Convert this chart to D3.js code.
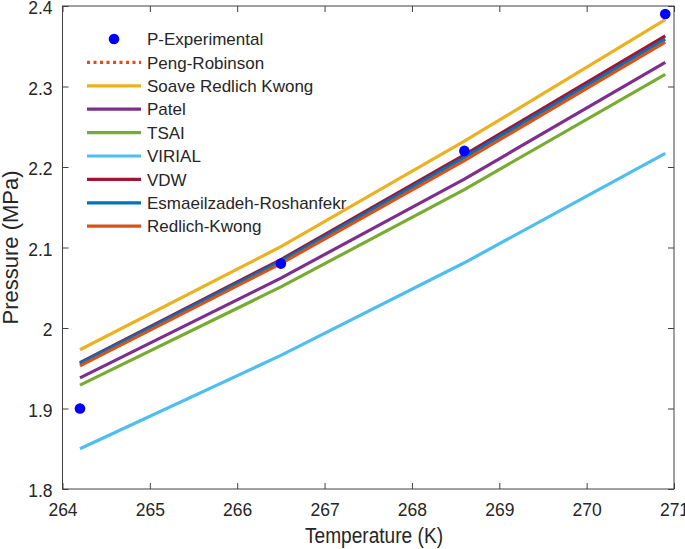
<!DOCTYPE html>
<html><head><meta charset="utf-8">
<script src="https://cdn.jsdelivr.net/npm/d3@7"></script>
<style>body{margin:0;background:#fff}svg{display:block;font-family:"Liberation Sans",Arial,sans-serif}</style>
</head><body><div id="chart"></div>
<script>
const temps = [264.2, 266.5, 268.6, 270.9];
const expP = [1.90, 2.08, 2.22, 2.39];
const pengRobinson = [1.955, 2.082, 2.210, 2.357];
const soave = [1.973, 2.101, 2.232, 2.383];
const patel = [1.938, 2.062, 2.185, 2.330];
const tsai = [1.929, 2.051, 2.172, 2.315];
const virial = [1.850, 1.966, 2.081, 2.217];
const vdw = [1.957, 2.085, 2.215, 2.363];
const esmaeil = [1.956, 2.083, 2.212, 2.359];
const redlichKwong = [1.953, 2.080, 2.208, 2.355];
const xTicks = [264, 265, 266, 267, 268, 269, 270, 271];
const yTicks = [1.8, 1.9, 2.0, 2.1, 2.2, 2.3, 2.4];

const series = [
  {name: "Peng-Robinson", values: pengRobinson, color: "#D95319", dash: "3,3.5"},
  {name: "Soave Redlich Kwong", values: soave, color: "#EDB120"},
  {name: "Patel", values: patel, color: "#7E2F8E"},
  {name: "TSAI", values: tsai, color: "#77AC30"},
  {name: "VIRIAL", values: virial, color: "#4DBEEE"},
  {name: "VDW", values: vdw, color: "#A2142F"},
  {name: "Esmaeilzadeh-Roshanfekr", values: esmaeil, color: "#0072BD"},
  {name: "Redlich-Kwong", values: redlichKwong, color: "#D95319"}
];

const W = 685, H = 549;
const m = {left: 62.5, right: 11, top: 6, bottom: 60};
const svg = d3.select("#chart").append("svg").attr("width", W).attr("height", H);
const x = d3.scaleLinear().domain([264, 271]).range([m.left, W - m.right]);
const y = d3.scaleLinear().domain([1.8, 2.4]).range([H - m.bottom, m.top]);
const axisColor = "#404040", textColor = "#262626";

// lines
const line = d3.line().x((d, i) => x(temps[i])).y(d => y(d));
series.forEach(s => {
  svg.append("path").datum(s.values).attr("d", line)
    .attr("fill", "none").attr("stroke", s.color).attr("stroke-width", 3.2)
    .attr("stroke-dasharray", s.dash || null);
});
// experimental points
svg.selectAll("circle.exp").data(expP).enter().append("circle")
  .attr("class", "exp").attr("cx", (d, i) => x(temps[i])).attr("cy", d => y(d))
  .attr("r", 5.3).attr("fill", "#0000FF");

// axes box
const g = svg.append("g");
g.append("rect").attr("x", x(264)).attr("y", y(2.4)).attr("width", x(271) - x(264))
  .attr("height", y(1.8) - y(2.4)).attr("fill", "none").attr("stroke", axisColor).attr("stroke-width", 1);
const axBottom = d3.axisBottom(x).tickValues(xTicks).tickFormat(d3.format("d")).tickSizeInner(-6).tickSizeOuter(0).tickPadding(15);
const axTop = d3.axisTop(x).tickValues(xTicks).tickFormat("").tickSizeInner(-6).tickSizeOuter(0);
const axLeft = d3.axisLeft(y).tickValues(yTicks).tickFormat(d => d === 2 ? "2" : d3.format(".1f")(d)).tickSizeInner(6).tickSizeOuter(0).tickPadding(4);
const axRight = d3.axisRight(y).tickValues(yTicks).tickFormat("").tickSizeInner(-6).tickSizeOuter(0);
function style(sel) {
  sel.select(".domain").remove();
  sel.selectAll(".tick line").attr("stroke", axisColor);
  sel.selectAll(".tick text").attr("fill", textColor).style("font-size", "17.5px");
}
g.append("g").attr("transform", `translate(0,${y(1.8)})`).call(axBottom).call(style);
g.append("g").attr("transform", `translate(0,${y(2.4)})`).call(axTop).call(style);
const la = g.append("g").attr("transform", `translate(${x(264)},0)`).call(axLeft).call(style);
la.selectAll(".tick line").attr("x2", 6);
la.selectAll(".tick text").attr("dy", "0.45em");
g.append("g").attr("transform", `translate(${x(271)},0)`).call(axRight).call(style);

// axis labels
svg.append("text").attr("x", 374).attr("y", 543).attr("text-anchor", "middle")
  .attr("fill", textColor).style("font-size", "22px")
  .attr("textLength", 138).attr("lengthAdjust", "spacingAndGlyphs").text("Temperature (K)");
svg.append("text").attr("transform", `translate(18,${(y(1.8) + y(2.4)) / 2}) rotate(-90)`)
  .attr("text-anchor", "middle").attr("fill", textColor).style("font-size", "22px").text("Pressure (MPa)");

// legend
const legNames = ["P-Experimental"].concat(series.map(s => s.name));
const lg = svg.append("g");
legNames.forEach((n, i) => {
  const yy = 39 + i * 23.4;
  if (i === 0) {
    lg.append("circle").attr("cx", 114).attr("cy", yy).attr("r", 5.3).attr("fill", "#0000FF");
  } else {
    const s = series[i - 1];
    lg.append("line").attr("x1", 87).attr("x2", 141).attr("y1", yy).attr("y2", yy)
      .attr("stroke", s.color).attr("stroke-width", 3.2).attr("stroke-dasharray", s.dash || null);
  }
  lg.append("text").attr("x", 147).attr("y", yy).attr("dy", "0.36em")
    .attr("fill", textColor).style("font-size", "17px").text(n);
});
</script></body></html>
